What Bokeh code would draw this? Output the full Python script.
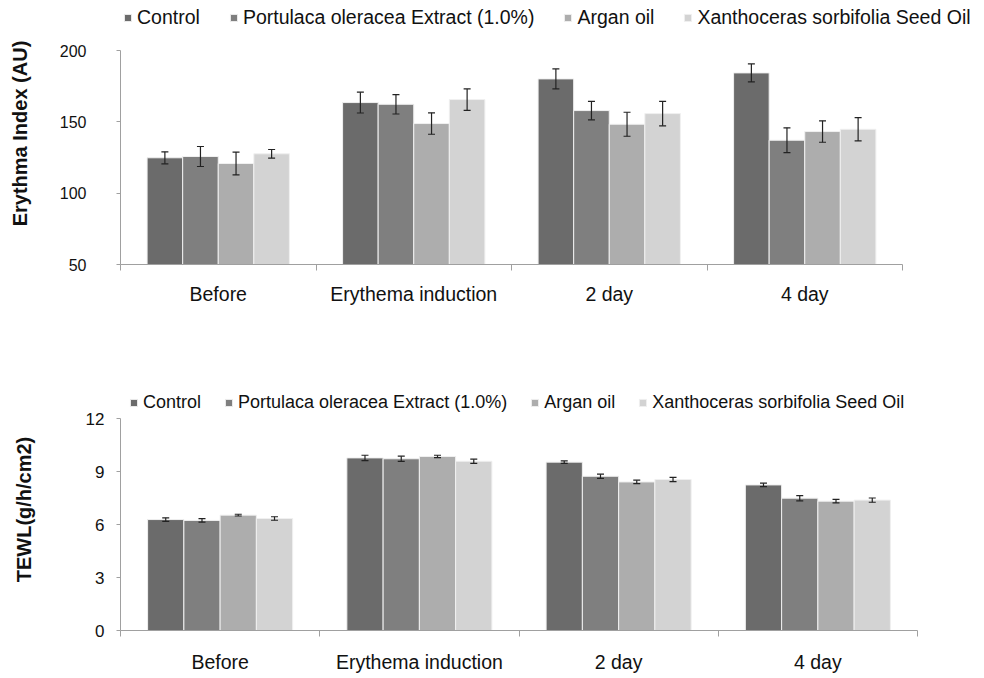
from bokeh.plotting import figure
from bokeh.models import (ColumnDataSource, Range1d, FixedTicker, Legend, LegendItem, Whisker, TeeHead)
from bokeh.transform import dodge
from bokeh.layouts import column
from bokeh.embed import file_html
from bokeh.resources import INLINE

categories = ["Before", "Erythema induction", "2 day", "4 day"]
series = ["Control", "Portulaca oleracea Extract (1.0%)", "Argan oil", "Xanthoceras sorbifolia Seed Oil"]
colors = ["#6b6b6b", "#7f7f7f", "#adadad", "#d3d3d3"]

# Erythema index (AU)
ei_control = [124.8, 163.5, 180.1, 184.3]
ei_portulaca = [125.7, 162.3, 157.9, 137.1]
ei_argan = [120.8, 148.8, 148.3, 143.2]
ei_xantho = [127.6, 165.6, 155.8, 144.8]
ei_control_err = [4.2, 7.3, 7.0, 6.3]
ei_portulaca_err = [7.0, 6.8, 6.5, 8.7]
ei_argan_err = [8.0, 7.5, 8.4, 7.5]
ei_xantho_err = [3.0, 7.5, 8.6, 8.2]

# TEWL (g/h/cm2)
tewl_control = [6.28, 9.77, 9.53, 8.24]
tewl_portulaca = [6.23, 9.72, 8.73, 7.49]
tewl_argan = [6.53, 9.85, 8.41, 7.32]
tewl_xantho = [6.34, 9.58, 8.55, 7.38]
tewl_control_err = [0.10, 0.15, 0.07, 0.10]
tewl_portulaca_err = [0.10, 0.15, 0.12, 0.15]
tewl_argan_err = [0.05, 0.07, 0.10, 0.10]
tewl_xantho_err = [0.10, 0.12, 0.12, 0.12]

FONT = "Liberation Sans"
AXIS_COLOR = "#a0a0a0"
TEXT_COLOR = "#111111"
BAR_W = 0.182
offsets = [-1.5 * BAR_W, -0.5 * BAR_W, 0.5 * BAR_W, 1.5 * BAR_W]


def make_chart(values, errs, y_start, y_end, y_ticks, y_title,
               axis_px_w, axis_px_h, frame_w, frame_h, borders,
               ytick_font, ytick_standoff, ytitle_standoff, xlabel_standoff,
               legend_font, legend_spacing, legend_loc):
    bl, br, bt, bb = borders
    n = len(categories)
    # the frame is larger than the plotted area (room for the legend); axes are bounded
    x_end = n * frame_w / axis_px_w
    y_top = y_start + (y_end - y_start) * frame_h / axis_px_h
    p = figure(frame_width=frame_w, frame_height=frame_h, output_backend="svg",
               toolbar_location=None, x_range=Range1d(0, x_end), y_range=Range1d(y_start, y_top),
               min_border_left=bl, min_border_right=br, min_border_top=bt, min_border_bottom=bb)
    p.outline_line_color = None
    p.grid.visible = False
    xs = [i + 0.5 for i in range(n)]
    items = []
    for k, (vals, err) in enumerate(zip(values, errs)):
        src = ColumnDataSource(dict(x=xs, top=vals,
                                    upper=[v + e for v, e in zip(vals, err)],
                                    lower=[v - e for v, e in zip(vals, err)]))
        r = p.vbar(x=dodge("x", offsets[k], range=p.x_range), top="top", bottom=y_start,
                   width=BAR_W, source=src, fill_color=colors[k], line_color="#f0f0f0",
                   line_width=1)
        items.append(LegendItem(label=series[k], renderers=[r]))
        w = Whisker(base=dodge("x", offsets[k], range=p.x_range), upper="upper", lower="lower",
                    source=src, line_color="#222222", line_width=1.2, level="overlay",
                    upper_head=TeeHead(size=7, line_color="#222222", line_width=1.2),
                    lower_head=TeeHead(size=7, line_color="#222222", line_width=1.2))
        p.add_layout(w)

    # x axis: labels at category centres, ticks at category boundaries
    xa = p.xaxis[0]
    xa.bounds = (0, n)
    xa.ticker = FixedTicker(ticks=xs, minor_ticks=list(range(n + 1)))
    xa.major_label_overrides = {x: c for x, c in zip(xs, categories)}
    xa.major_tick_out = 0
    xa.major_tick_in = 0
    xa.minor_tick_out = 6
    xa.minor_tick_in = 0
    xa.minor_tick_line_color = AXIS_COLOR
    xa.axis_line_color = AXIS_COLOR
    xa.major_label_text_font = FONT
    xa.major_label_text_font_size = "19.5px"
    xa.major_label_text_color = TEXT_COLOR
    xa.major_label_standoff = xlabel_standoff

    # y axis
    ya = p.yaxis[0]
    ya.bounds = (y_start, y_end)
    ya.ticker = FixedTicker(ticks=y_ticks)
    ya.minor_tick_line_color = None
    ya.major_tick_out = 4
    ya.major_tick_in = 0
    ya.major_tick_line_color = AXIS_COLOR
    ya.axis_line_color = AXIS_COLOR
    ya.major_label_text_font = FONT
    ya.major_label_text_font_size = ytick_font
    ya.major_label_text_color = TEXT_COLOR
    ya.major_label_standoff = ytick_standoff
    ya.axis_label = y_title
    ya.axis_label_text_font = FONT
    ya.axis_label_text_font_style = "bold"
    ya.axis_label_text_font_size = "20px"
    ya.axis_label_text_color = TEXT_COLOR
    ya.axis_label_standoff = ytitle_standoff

    legend = Legend(items=items, orientation="horizontal", location=legend_loc,
                    label_text_font=FONT, label_text_font_size=legend_font,
                    label_text_color=TEXT_COLOR, glyph_width=9, glyph_height=9,
                    label_standoff=5, spacing=legend_spacing, padding=0, margin=0,
                    border_line_color=None, background_fill_alpha=0,
                    label_height=9, label_text_baseline="middle")
    p.add_layout(legend)
    return p


# top chart: axes area 782x214 px, frame extended up/right for the legend
p1 = make_chart([ei_control, ei_portulaca, ei_argan, ei_xantho],
                [ei_control_err, ei_portulaca_err, ei_argan_err, ei_xantho_err],
                50, 200, [50, 100, 150, 200], "Erythma Index (AU)",
                782, 214, 860, 262, (120, 2, 2, 70),
                "16px", 30, 26, 12,
                "19.5px", 29, (3, 235))

# bottom chart: axes area 797x212 px, frame extended up for the legend
p2 = make_chart([tewl_control, tewl_portulaca, tewl_argan, tewl_xantho],
                [tewl_control_err, tewl_portulaca_err, tewl_argan_err, tewl_xantho_err],
                0, 12, [0, 3, 6, 9, 12], "TEWL(g/h/cm2)",
                797, 212, 797, 242, (120, 2, 54, 38),
                "17px", 12, 48, 14,
                "18px", 23, (9, 217.5))

layout = column(p1, p2, spacing=0)
open("out.html", "w").write(file_html(layout, INLINE))
